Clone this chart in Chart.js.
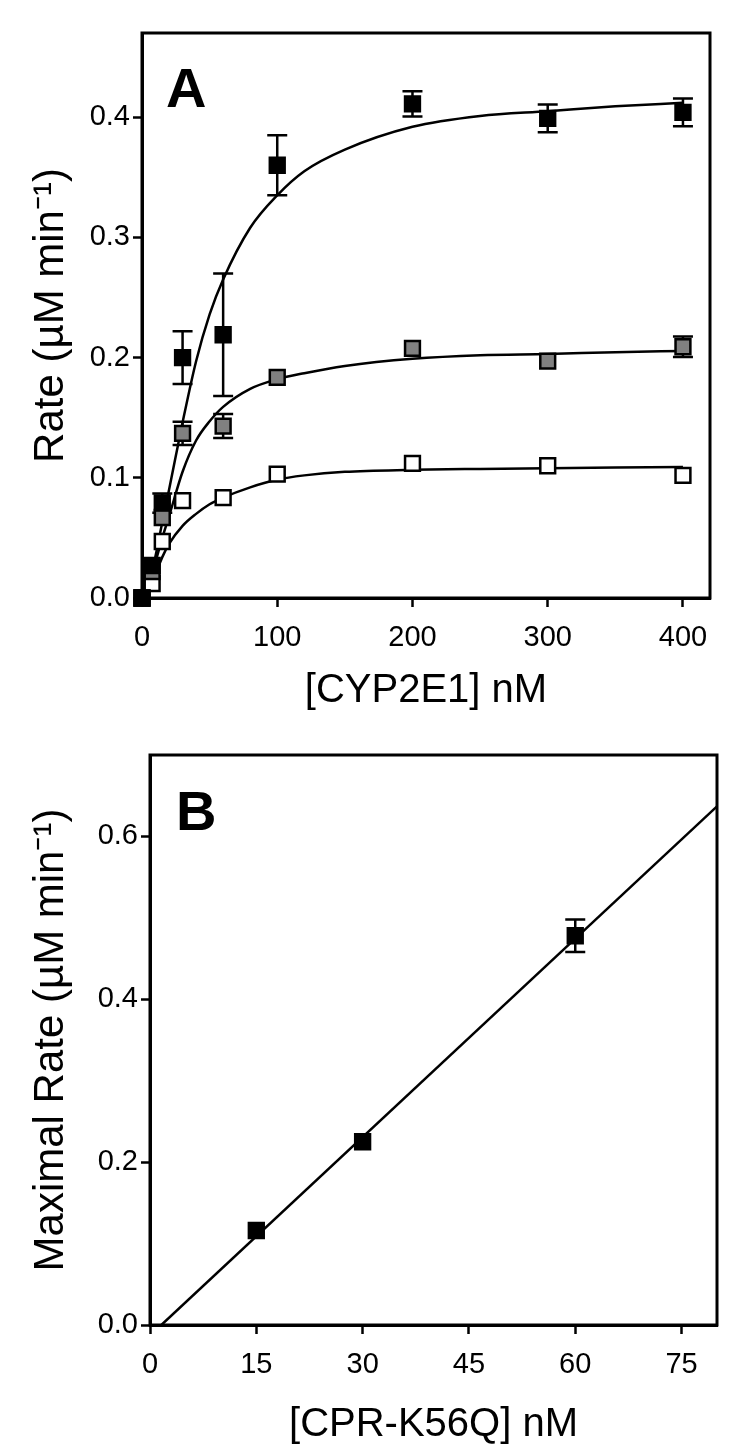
<!DOCTYPE html>
<html><head><meta charset="utf-8">
<script src="https://cdn.jsdelivr.net/npm/chart.js@4.4.1/dist/chart.umd.min.js"></script>
<style>
html,body{margin:0;padding:0;background:#fff;}
body{width:750px;height:1451px;position:relative;overflow:hidden;}
#ca{position:absolute;left:0;top:0;}
#cb{position:absolute;left:0;top:720px;}
</style></head><body>
<canvas id="ca" width="750" height="720"></canvas>
<canvas id="cb" width="750" height="731"></canvas>
<script>
// ---------- Panel A data ----------
const cypConc = [0, 7.5, 15, 30, 60, 100, 200, 300, 400];
const rateCpr60 = [0, 0.027, 0.079, 0.200, 0.219, 0.360, 0.411, 0.399, 0.404];
const errCpr60  = [0, 0, 0.008, 0.022, 0.051, 0.025, 0.0105, 0.0115, 0.0115];
const rateCpr30 = [0, 0.022, 0.067, 0.137, 0.143, 0.1835, 0.2077, 0.197, 0.209];
const errCpr30  = [0, 0, 0, 0.0097, 0.010, 0, 0, 0, 0.0085];
const rateCpr15 = [0, 0.012, 0.047, 0.081, 0.0835, 0.103, 0.112, 0.110, 0.102];
// fitted curves
const fitConc  = [0, 5, 10, 15, 20, 30, 40, 50, 60, 80, 100, 120, 150, 200, 250, 300, 350, 400];
const fitCpr60 = [0, 0.010, 0.035, 0.063, 0.090, 0.146, 0.197, 0.236, 0.265, 0.308, 0.335, 0.355, 0.373, 0.392, 0.401, 0.405, 0.409, 0.412];
const fitCpr30 = [0, 0.011, 0.030, 0.050, 0.068, 0.105, 0.131, 0.147, 0.159, 0.174, 0.182, 0.187, 0.193, 0.199, 0.202, 0.203, 0.2045, 0.2055];
const fitCpr15 = [0, 0.006, 0.020, 0.034, 0.045, 0.060, 0.070, 0.078, 0.0835, 0.092, 0.0985, 0.102, 0.105, 0.1066, 0.1074, 0.108, 0.1085, 0.109];
const xTicksA = [0, 100, 200, 300, 400];
const yTicksA = [0, 0.1, 0.2, 0.3, 0.4];

// ---------- Panel B data ----------
const cprConc = [15, 30, 60];
const maxRate = [0.116, 0.225, 0.478];
const maxRateErr = [0, 0, 0.020];
const lineConc = [1.6, 80];
const lineRate = [0, 0.637];
const xTicksB = [0, 15, 30, 45, 60, 75];
const yTicksB = [0, 0.2, 0.4, 0.6];

const FONT = "'Liberation Sans', Arial, Helvetica, sans-serif";
const pts = (xs, ys) => xs.map((x, i) => ({x: x, y: ys[i]}));

const errorBarPlugin = {
  id: 'errbars',
  beforeDatasetsDraw(chart) {
    const {ctx, scales: {x, y}} = chart;
    ctx.save();
    ctx.strokeStyle = '#000';
    ctx.lineWidth = 2.5;
    chart.data.datasets.forEach(ds => {
      if (!ds.errors) return;
      ds.data.forEach((p, i) => {
        const e = ds.errors[i];
        if (!e) return;
        const px = x.getPixelForValue(p.x);
        const t = y.getPixelForValue(p.y + e), b = y.getPixelForValue(p.y - e);
        ctx.beginPath();
        ctx.moveTo(px, t); ctx.lineTo(px, b);
        ctx.moveTo(px - 10, t); ctx.lineTo(px + 10, t);
        ctx.moveTo(px - 10, b); ctx.lineTo(px + 10, b);
        ctx.stroke();
      });
    });
    ctx.restore();
  }
};
const framePlugin = {
  id: 'frame',
  beforeDatasetsDraw(chart) {
    const {ctx, chartArea: a} = chart;
    ctx.save();
    ctx.strokeStyle = '#000';
    ctx.lineWidth = 3;
    ctx.strokeRect(a.left, a.top, a.right - a.left, a.bottom - a.top);
    ctx.restore();
  }
};
const letterPlugin = {
  id: 'letter',
  afterDraw(chart, args, opts) {
    const {ctx, chartArea: a} = chart;
    ctx.save();
    ctx.fillStyle = '#000';
    ctx.font = 'bold 56px ' + FONT;
    ctx.textBaseline = 'alphabetic';
    ctx.textAlign = 'left';
    ctx.fillText(opts.text, a.left + opts.dx, a.top + opts.dy);
    ctx.restore();
  }
};

function scaleOpts(min, max, ticks, title, fmt, fit, tickPad, titleSize, titlePad) {
  return {
    type: 'linear', min: min, max: max,
    afterBuildTicks: s => { s.ticks = ticks.map(v => ({value: v})); },
    afterFit: fit,
    grid: {display: true, drawOnChartArea: false, drawTicks: true, tickLength: 9, tickWidth: 2.5, color: '#000'},
    border: {display: true, width: 3, color: '#000'},
    ticks: {color: '#000', font: {family: FONT, size: 29}, padding: tickPad, callback: fmt, maxRotation: 0, autoSkip: false},
    title: {display: true, text: title, color: '#000', font: {family: FONT, size: titleSize}, padding: titlePad}
  };
}
const curve = (xs, ys) => ({data: pts(xs, ys), showLine: true, pointRadius: 0, borderColor: '#000', borderWidth: 2.5, cubicInterpolationMode: 'monotone', order: 5});
const marks = (xs, ys, fill, errs, ord) => ({data: pts(xs, ys), showLine: false, pointStyle: 'rect', pointRadius: 10.5, backgroundColor: fill, borderColor: '#000', pointBackgroundColor: fill, pointBorderColor: '#000', pointBorderWidth: 2.5, errors: errs, order: ord, clip: false});

const common = {
  responsive: false, animation: false, events: [],
  plugins: {legend: {display: false}, tooltip: {enabled: false}}
};

new Chart(document.getElementById('ca'), {
  type: 'scatter',
  data: {datasets: [
    marks(cypConc, rateCpr60, '#000000', errCpr60, 1),
    marks(cypConc, rateCpr30, '#808080', errCpr30, 2),
    marks(cypConc, rateCpr15, '#ffffff', null, 3),
    curve(fitConc, fitCpr60),
    curve(fitConc, fitCpr30),
    curve(fitConc, fitCpr15)
  ]},
  options: Object.assign({}, common, {
    layout: {padding: {left: 22, right: 40, top: 33, bottom: 1}},
    plugins: Object.assign({}, common.plugins, {letter: {text: 'A', dx: 24, dy: 74}}),
    scales: {
      x: scaleOpts(0, 420, xTicksA, '[CYP2E1] nM', v => String(v), s => { s.height = 121; }, 14, 40, {top: 4, bottom: 4}),
      y: scaleOpts(0, 0.47, yTicksA, 'Rate (\u00B5M min\u207B\u00B9)', v => v.toFixed(1), s => { s.width = 120; }, 3, 42, {top: 4, bottom: 4})
    }
  }),
  plugins: [errorBarPlugin, framePlugin, letterPlugin]
});

new Chart(document.getElementById('cb'), {
  type: 'scatter',
  data: {datasets: [
    marks(cprConc, maxRate, '#000000', maxRateErr, 1),
    {data: pts(lineConc, lineRate), showLine: true, pointRadius: 0, borderColor: '#000', borderWidth: 2.5, order: 5}
  ]},
  options: Object.assign({}, common, {
    layout: {padding: {left: 22, right: 33, top: 35, bottom: 2}},
    plugins: Object.assign({}, common.plugins, {letter: {text: 'B', dx: 26, dy: 75}}),
    scales: {
      x: scaleOpts(0, 80, xTicksB, '[CPR-K56Q] nM', v => String(v), s => { s.height = 124; }, 14, 40, {top: 4, bottom: 0}),
      y: scaleOpts(0, 0.7, yTicksB, 'Maximal Rate (\u00B5M min\u207B\u00B9)', v => v.toFixed(1), s => { s.width = 128; }, 3, 42, {top: 4, bottom: 4})
    }
  }),
  plugins: [errorBarPlugin, framePlugin, letterPlugin]
});
</script>
</body></html>
